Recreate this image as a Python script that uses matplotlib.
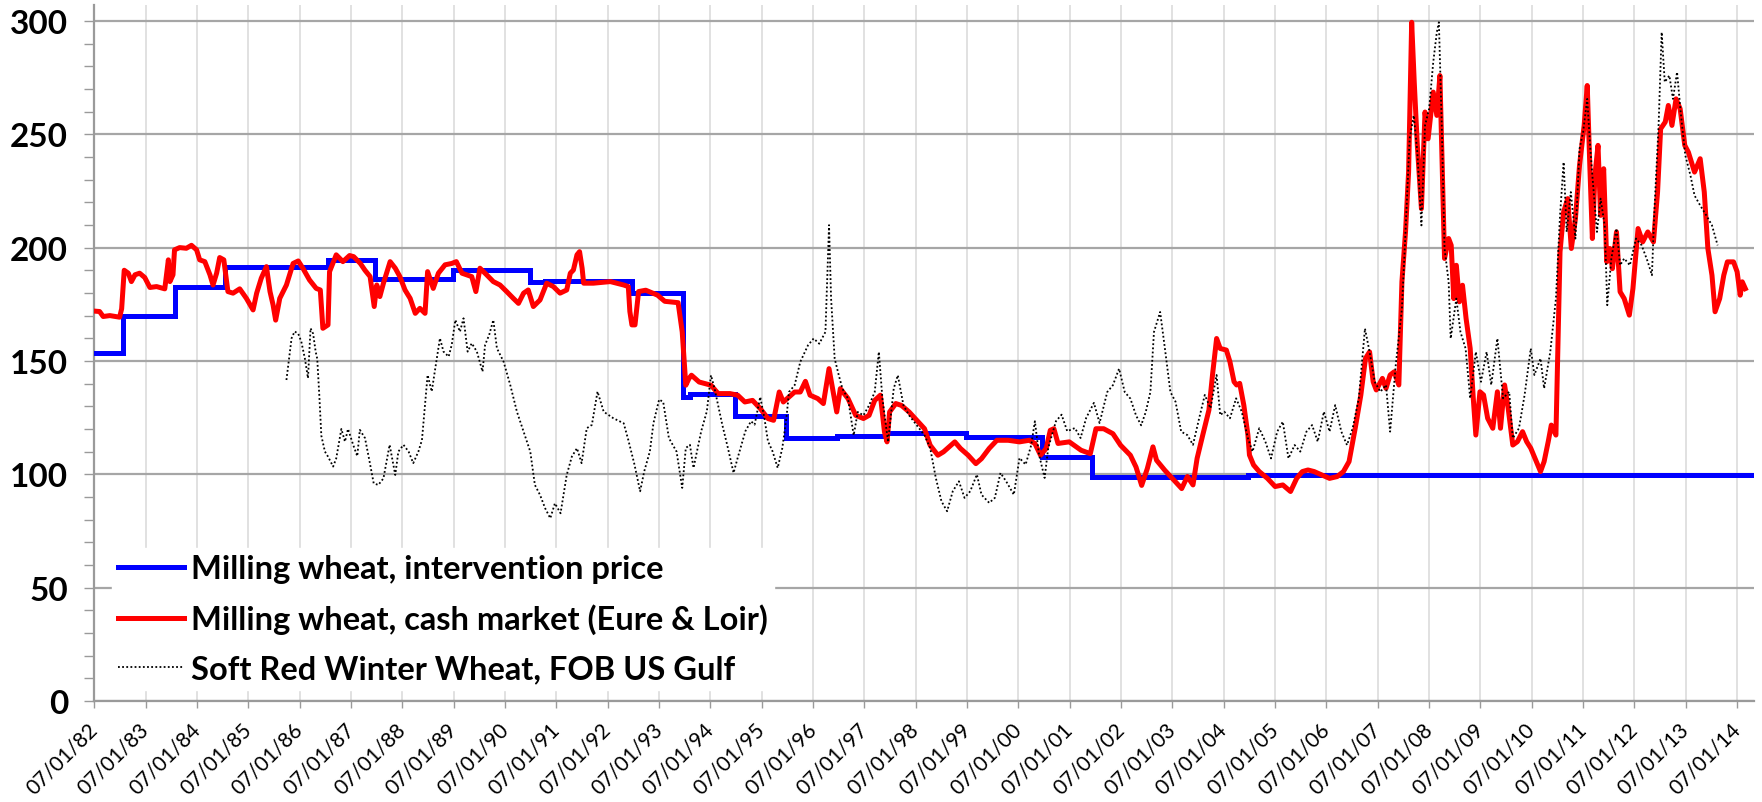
import matplotlib
matplotlib.use("Agg")
import matplotlib.pyplot as plt
from matplotlib.ticker import MultipleLocator

# decimal years (1982.5 = 07/01/82)
interv_years = [1982.5, 1983.06, 1984.06, 1985.04, 1987.05, 1987.97, 1989.49, 1990.99,
                1991.28, 1992.97, 1993.97, 1994.10, 1994.97, 1995.98, 1996.96, 1997.92,
                1999.47, 2000.95, 2001.94, 2004.97, 2014.83]
interv_price = [153.7, 169.9, 182.5, 191.3, 194.6, 186.0, 189.9, 184.6,
                185.4, 179.9, 134.1, 135.6, 125.6, 116.0, 116.8, 118.2,
                116.3, 107.6, 98.8, 99.8, 99.8]

cash_years = [
    1982.49, 1982.60, 1982.67, 1982.80, 1982.99, 1983.03, 1983.08, 1983.16, 1983.22, 1983.29,
    1983.38, 1983.48, 1983.58, 1983.71, 1983.87, 1983.94, 1983.97, 1984.03, 1984.06, 1984.16,
    1984.29, 1984.39, 1984.49, 1984.55, 1984.65, 1984.75, 1984.81, 1984.88, 1984.94, 1985.02,
    1985.10, 1985.20, 1985.33, 1985.46, 1985.59, 1985.66, 1985.75, 1985.85, 1985.92, 1985.98,
    1986.03, 1986.11, 1986.24, 1986.37, 1986.47, 1986.56, 1986.69, 1986.82, 1986.90, 1986.95,
    1987.05, 1987.08, 1987.21, 1987.34, 1987.47, 1987.55, 1987.68, 1987.77, 1987.87, 1987.95,
    1988.00, 1988.06, 1988.13, 1988.26, 1988.36, 1988.45, 1988.55, 1988.65, 1988.75, 1988.84,
    1988.94, 1988.99, 1989.10, 1989.20, 1989.33, 1989.46, 1989.55, 1989.66, 1989.75, 1989.85,
    1989.93, 1990.01, 1990.14, 1990.27, 1990.40, 1990.53, 1990.66, 1990.76, 1990.86, 1990.95,
    1991.05, 1991.18, 1991.31, 1991.44, 1991.57, 1991.70, 1991.77, 1991.83, 1991.90, 1991.95,
    1992.00, 1992.03, 1992.22, 1992.55, 1992.81, 1992.90, 1992.93, 1992.97, 1993.03, 1993.10,
    1993.24, 1993.47, 1993.61, 1993.87, 1993.95, 1994.02, 1994.08, 1994.13, 1994.28, 1994.51,
    1994.65, 1994.88, 1995.03, 1995.17, 1995.32, 1995.47, 1995.62, 1995.73, 1995.84, 1995.92,
    1996.03, 1996.14, 1996.25, 1996.35, 1996.44, 1996.59, 1996.70, 1996.81, 1996.88, 1996.96,
    1997.03, 1997.18, 1997.33, 1997.48, 1997.59, 1997.70, 1997.81, 1997.89, 1997.94, 1997.99,
    1998.11, 1998.22, 1998.37, 1998.52, 1998.67, 1998.78, 1998.93, 1999.04, 1999.15, 1999.26,
    1999.37, 1999.52, 1999.67, 1999.78, 1999.93, 2000.08, 2000.30, 2000.52, 2000.71, 2000.82,
    2000.93, 2001.04, 2001.12, 2001.19, 2001.27, 2001.49, 2001.72, 2001.90, 2002.01, 2002.16,
    2002.34, 2002.49, 2002.68, 2002.79, 2002.90, 2003.01, 2003.12, 2003.19, 2003.35, 2003.50,
    2003.68, 2003.79, 2003.90, 2003.98, 2004.09, 2004.21, 2004.28, 2004.36, 2004.43, 2004.55,
    2004.62, 2004.70, 2004.75, 2004.81, 2004.89, 2004.97, 2005.00, 2005.08, 2005.19, 2005.35,
    2005.50, 2005.65, 2005.80, 2005.92, 2006.03, 2006.14, 2006.26, 2006.41, 2006.56, 2006.71,
    2006.83, 2006.94, 2007.06, 2007.17, 2007.26, 2007.34, 2007.41, 2007.47, 2007.59, 2007.66,
    2007.74, 2007.82, 2007.91, 2007.97, 2008.04, 2008.10, 2008.16, 2008.21, 2008.27, 2008.35,
    2008.42, 2008.48, 2008.58, 2008.65, 2008.71, 2008.75, 2008.80, 2008.88, 2008.93, 2008.98,
    2009.03, 2009.09, 2009.15, 2009.22, 2009.30, 2009.36, 2009.41, 2009.49, 2009.56, 2009.64,
    2009.74, 2009.83, 2009.89, 2009.97, 2010.04, 2010.13, 2010.22, 2010.32, 2010.40, 2010.48,
    2010.59, 2010.67, 2010.74, 2010.82, 2010.88, 2010.97, 2011.05, 2011.12, 2011.20, 2011.27,
    2011.35, 2011.43, 2011.52, 2011.58, 2011.63, 2011.68, 2011.73, 2011.79, 2011.84, 2011.90,
    2011.96, 2012.02, 2012.07, 2012.15, 2012.22, 2012.30, 2012.40, 2012.47, 2012.57, 2012.66,
    2012.76, 2012.87, 2012.95, 2013.01, 2013.10, 2013.16, 2013.23, 2013.31, 2013.39, 2013.48,
    2013.55, 2013.67, 2013.78, 2013.86, 2013.93, 2014.01, 2014.07, 2014.16, 2014.24, 2014.31,
    2014.43, 2014.50, 2014.56, 2014.60, 2014.66,
]
cash_price = [
    172.0, 171.8, 169.6, 170.0, 169.3, 173.0, 190.0, 188.7, 185.0, 188.0,
    188.7, 186.8, 182.4, 182.8, 181.8, 194.6, 185.0, 188.0, 199.0, 200.0,
    199.7, 201.0, 199.0, 194.6, 193.8, 188.0, 183.5, 188.7, 195.6, 194.6,
    180.6, 179.9, 181.8, 177.6, 172.5, 179.9, 186.5, 191.6, 180.6, 174.7,
    168.0, 177.6, 183.5, 193.0, 194.1, 190.9, 185.7, 182.0, 181.3, 164.4,
    165.9, 189.4, 196.8, 193.8, 196.5, 196.0, 193.0, 190.0, 187.2, 174.0,
    183.5, 178.4, 184.3, 193.8, 190.9, 187.2, 181.3, 177.6, 171.0, 173.2,
    171.0, 189.4, 182.0, 188.7, 192.4, 193.0, 193.8, 188.7, 188.0, 187.2,
    180.6, 190.9, 188.0, 185.0, 183.5, 180.6, 177.6, 175.4, 179.9, 181.3,
    174.0, 176.9, 184.3, 182.8, 179.9, 181.3, 188.7, 190.1, 196.8, 198.2,
    190.9, 184.3, 184.3, 185.0, 183.5, 182.8, 171.8, 165.9, 165.9, 180.6,
    181.2, 179.0, 176.3, 175.7, 162.8, 139.3, 142.2, 143.7, 140.7, 139.3,
    135.6, 135.6, 134.9, 131.9, 132.6, 129.0, 124.6, 123.8, 136.3, 131.9,
    134.1, 136.3, 136.3, 141.0, 134.9, 133.4, 131.2, 146.6, 137.8, 127.5,
    137.8, 133.4, 126.0, 124.6, 126.0, 132.6, 134.9, 118.7, 114.3, 127.5,
    131.2, 130.4, 127.5, 123.8, 120.1, 112.8, 108.4, 109.9, 112.1, 114.3,
    111.4, 108.4, 104.7, 106.9, 111.4, 115.0, 115.0, 114.3, 115.0, 113.6,
    108.4, 111.4, 119.4, 120.1, 113.6, 114.3, 110.6, 109.1, 120.1, 120.1,
    117.9, 112.8, 108.4, 103.2, 95.1, 102.5, 112.1, 106.2, 101.8, 98.1,
    93.7, 99.0, 95.3, 107.0, 117.3, 128.3, 143.8, 159.9, 155.5, 154.8,
    149.6, 140.8, 139.4, 140.1, 130.5, 117.3, 108.5, 104.1, 101.2, 98.2,
    94.6, 95.3, 92.4, 98.2, 101.2, 101.9, 101.2, 99.7, 98.2, 99.0,
    101.2, 105.6, 120.3, 135.0, 151.1, 154.0, 140.8, 137.2, 142.3, 137.9,
    143.8, 145.2, 139.4, 184.9, 206.9, 233.3, 299.4, 273.0, 245.1, 217.2,
    259.8, 248.0, 268.6, 258.3, 275.9, 239.2, 195.2, 204.0, 201.0, 177.5,
    192.2, 176.1, 183.4, 168.7, 155.5, 133.5, 117.3, 136.4, 135.0, 124.7,
    120.3, 136.4, 120.3, 139.4, 129.1, 112.9, 114.4, 118.8, 114.4, 111.5,
    105.6, 101.2, 105.6, 114.4, 121.7, 117.3, 198.1, 215.7, 221.6, 199.6,
    212.8, 236.3, 253.9, 271.5, 236.3, 204.0, 231.9, 245.1, 214.2, 234.8,
    193.7, 199.6, 190.7, 206.9, 180.5, 177.5, 170.2, 181.9, 208.4, 202.5,
    206.9, 202.5, 224.5, 252.4, 255.4, 262.7, 253.9, 265.6, 261.2, 245.1,
    242.1, 233.3, 239.2, 224.5, 199.6, 187.8, 171.7, 177.5, 187.8, 193.7,
    193.7, 189.3, 179.0, 184.9, 181.9,
]

srw_years = [
    1986.24, 1986.34, 1986.40, 1986.47, 1986.53, 1986.60, 1986.66, 1986.71, 1986.76, 1986.81,
    1986.84, 1986.88, 1986.92, 1986.99, 1987.05, 1987.15, 1987.21, 1987.31, 1987.38, 1987.44,
    1987.54, 1987.62, 1987.67, 1987.77, 1987.86, 1987.94, 1988.03, 1988.13, 1988.25, 1988.36,
    1988.42, 1988.52, 1988.62, 1988.71, 1988.81, 1988.88, 1988.99, 1989.07, 1989.14, 1989.23,
    1989.30, 1989.40, 1989.46, 1989.53, 1989.62, 1989.69, 1989.77, 1989.85, 1989.95, 1990.06,
    1990.11, 1990.19, 1990.27, 1990.34, 1990.47, 1990.60, 1990.73, 1990.86, 1990.99, 1991.08,
    1991.18, 1991.28, 1991.38, 1991.47, 1991.58, 1991.70, 1991.80, 1991.90, 1991.99, 1992.09,
    1992.19, 1992.30, 1992.42, 1992.61, 1992.81, 1992.90, 1993.02, 1993.13, 1993.21, 1993.32,
    1993.39, 1993.50, 1993.58, 1993.69, 1993.84, 1993.95, 1994.02, 1994.10, 1994.17, 1994.32,
    1994.43, 1994.51, 1994.58, 1994.73, 1994.84, 1994.95, 1995.03, 1995.18, 1995.29, 1995.36,
    1995.47, 1995.55, 1995.62, 1995.71, 1995.81, 1995.90, 1995.98, 1996.03, 1996.14, 1996.25,
    1996.40, 1996.51, 1996.62, 1996.74, 1996.81, 1996.85, 1996.92, 1997.00, 1997.07, 1997.18,
    1997.29, 1997.37, 1997.48, 1997.59, 1997.70, 1997.78, 1997.85, 1997.96, 1998.07, 1998.15,
    1998.26, 1998.37, 1998.52, 1998.67, 1998.78, 1998.89, 1999.00, 1999.11, 1999.22, 1999.34,
    1999.45, 1999.56, 1999.69, 1999.78, 1999.93, 2000.04, 2000.15, 2000.26, 2000.41, 2000.52,
    2000.64, 2000.75, 2000.82, 2000.90, 2001.01, 2001.08, 2001.23, 2001.34, 2001.45, 2001.60,
    2001.71, 2001.82, 2001.97, 2002.08, 2002.23, 2002.34, 2002.46, 2002.57, 2002.68, 2002.79,
    2002.89, 2002.98, 2003.07, 2003.14, 2003.26, 2003.35, 2003.46, 2003.56, 2003.67, 2003.79,
    2003.90, 2004.02, 2004.13, 2004.24, 2004.36, 2004.43, 2004.51, 2004.62, 2004.74, 2004.85,
    2004.97, 2005.06, 2005.19, 2005.31, 2005.42, 2005.54, 2005.65, 2005.76, 2005.88, 2005.99,
    2006.11, 2006.22, 2006.33, 2006.45, 2006.56, 2006.67, 2006.79, 2006.90, 2007.01, 2007.13,
    2007.25, 2007.34, 2007.44, 2007.55, 2007.66, 2007.74, 2007.85, 2007.97, 2008.04, 2008.12,
    2008.20, 2008.27, 2008.35, 2008.42, 2008.50, 2008.58, 2008.65, 2008.69, 2008.75, 2008.80,
    2008.88, 2008.92, 2009.03, 2009.11, 2009.21, 2009.30, 2009.41, 2009.51, 2009.62, 2009.71,
    2009.83, 2009.94, 2010.06, 2010.13, 2010.25, 2010.36, 2010.48, 2010.55, 2010.67, 2010.74,
    2010.86, 2010.97, 2011.05, 2011.12, 2011.18, 2011.26, 2011.35, 2011.43, 2011.50, 2011.58,
    2011.64, 2011.69, 2011.77, 2011.84, 2011.92, 2011.97, 2012.05, 2012.15, 2012.22, 2012.30,
    2012.41, 2012.53, 2012.64, 2012.76, 2012.84, 2012.89, 2012.97, 2013.03, 2013.09, 2013.18,
    2013.25, 2013.33, 2013.40, 2013.49, 2013.59, 2013.67, 2013.78, 2013.90, 2014.01, 2014.12,
]
srw_price = [
    141.6, 160.0, 163.0, 162.0, 158.5, 151.0, 142.4, 164.4, 162.0, 154.0,
    151.0, 135.0, 117.0, 110.0, 107.8, 103.4, 107.0, 120.0, 114.4, 120.0,
    113.0, 108.0, 119.6, 116.0, 105.6, 96.0, 95.3, 98.2, 113.0, 99.7,
    110.0, 113.0, 110.0, 104.9, 110.0, 115.1, 143.8, 136.5, 146.8, 160.0,
    154.1, 151.9, 157.1, 168.1, 162.9, 168.8, 154.1, 157.8, 154.1, 145.3,
    157.1, 161.5, 168.1, 155.6, 149.7, 139.4, 127.6, 118.8, 110.0, 95.3,
    90.9, 85.0, 80.6, 87.2, 82.8, 99.7, 107.8, 111.5, 104.9, 120.3,
    121.8, 136.5, 127.6, 124.7, 122.5, 115.1, 104.3, 92.5, 101.3, 110.1,
    122.6, 133.0, 131.9, 116.0, 110.0, 94.0, 111.6, 113.0, 102.8, 119.0,
    127.8, 143.7, 137.8, 121.9, 111.6, 100.6, 107.2, 119.0, 123.4, 121.9,
    134.1, 124.9, 114.6, 110.1, 102.8, 111.6, 124.9, 136.3, 139.3, 149.6,
    156.9, 159.9, 157.6, 162.8, 209.9, 177.5, 151.0, 143.7, 137.8, 133.4,
    117.2, 127.5, 126.0, 130.4, 136.3, 154.0, 133.4, 114.3, 137.8, 143.7,
    130.4, 126.0, 121.6, 117.2, 111.6, 98.4, 88.1, 83.7, 92.5, 96.9,
    89.6, 92.5, 99.9, 91.0, 87.4, 89.6, 100.6, 96.9, 91.0, 107.2,
    104.3, 113.0, 123.4, 108.7, 98.4, 111.6, 123.4, 126.3, 119.0, 120.4,
    116.0, 124.9, 131.5, 122.6, 136.3, 139.3, 146.6, 136.3, 133.4, 126.0,
    121.6, 127.5, 136.3, 162.8, 171.6, 156.0, 136.3, 132.0, 118.8, 117.3,
    113.0, 124.7, 135.0, 129.1, 143.8, 126.1, 127.6, 124.7, 133.5, 127.6,
    115.9, 110.0, 120.3, 114.4, 107.0, 118.8, 123.2, 107.0, 112.9, 110.0,
    118.8, 121.7, 114.4, 127.6, 118.8, 130.5, 118.8, 112.9, 120.3, 133.5,
    164.3, 154.0, 140.8, 136.4, 139.4, 118.8, 148.2, 173.1, 206.9, 248.0,
    258.3, 242.1, 209.8, 253.9, 261.2, 281.8, 295.0, 299.4, 251.0, 199.6,
    184.9, 159.9, 177.5, 162.8, 155.5, 133.5, 154.0, 140.8, 154.0, 139.4,
    159.9, 133.5, 136.4, 115.9, 120.3, 135.0, 155.5, 143.8, 151.1, 137.9,
    154.0, 177.5, 214.2, 237.7, 206.9, 224.5, 204.0, 243.6, 251.0, 265.6,
    243.6, 228.9, 206.9, 221.6, 209.8, 174.6, 195.2, 208.4, 192.2, 195.2,
    192.2, 204.0, 201.0, 193.7, 187.8, 217.2, 253.9, 295.0, 273.0, 275.9,
    265.6, 277.4, 259.8, 240.7, 231.9, 223.0, 218.6, 214.2, 209.8, 201.0,
]

tick_years = [1982.5 + i for i in range(33)]
tick_labels = ["07/01/%02d" % ((82 + i) % 100) for i in range(33)]

plt.rcParams["font.family"] = ["Lato", "DejaVu Sans"]

fig = plt.figure(figsize=(17.62, 8.03), dpi=100)
ax = fig.add_axes([0.0536, 0.1258, 0.9419, 0.8667])

ax.plot(interv_years, interv_price, color="#0000ff", lw=3.6, drawstyle="steps-post",
        solid_joinstyle="miter", label="Milling wheat, intervention price", zorder=3)
ax.plot(cash_years, cash_price, color="#ff0000", lw=3.6, solid_joinstyle="round",
        label="Milling wheat, cash market (Eure & Loir)", zorder=4)
ax.plot(srw_years, srw_price, color="black", lw=1.3, linestyle=(0, (1, 1.3)),
        label="Soft Red Winter Wheat, FOB US Gulf", zorder=5)

ax.set_xlim(1982.5, 2014.83)
ax.set_ylim(0, 307)
ax.set_xticks(tick_years)
ax.set_xticklabels(tick_labels, rotation=45, ha="right", va="center",
                   rotation_mode="anchor", fontsize=15)
ax.set_yticks([0, 50, 100, 150, 200, 250, 300])
ax.yaxis.set_minor_locator(MultipleLocator(10))
for lab in ax.get_yticklabels():
    lab.set_fontweight("bold")
    lab.set_fontsize(24)

ax.tick_params(axis="x", direction="out", length=5, width=1, color="#9a9a9a", pad=13)
ax.tick_params(axis="y", which="both", direction="out", length=7, width=1,
               color="#9a9a9a", pad=12)

ax.grid(True, axis="x", color="#d9d9d9", lw=1.1, zorder=0)
ax.grid(True, axis="y", which="major", color="#a6a6a6", lw=1.6, zorder=0)
ax.set_axisbelow(True)

for side in ("top", "right"):
    ax.spines[side].set_visible(False)
for side in ("left", "bottom"):
    ax.spines[side].set_color("#9a9a9a")
    ax.spines[side].set_linewidth(1.6)

leg = ax.legend(loc="lower left", bbox_to_anchor=(0.0105, 0.0158), frameon=True,
                fancybox=False, framealpha=1, edgecolor="white", facecolor="white",
                prop={"weight": "bold", "size": 23.5}, handlelength=2.0,
                handletextpad=0.22, labelspacing=0.62, borderpad=0.2,
                borderaxespad=0)
leg.set_zorder(10)

fig.savefig("out.png", dpi=100)
